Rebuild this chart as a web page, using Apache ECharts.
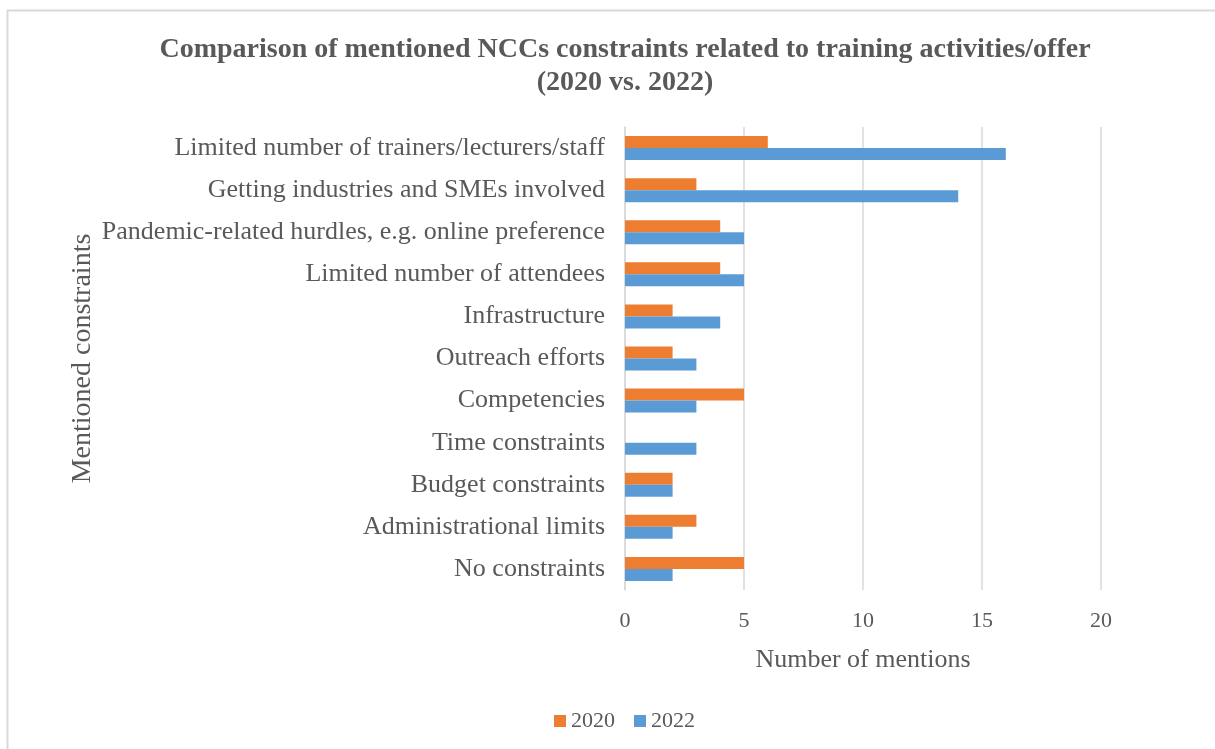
<!DOCTYPE html>
<html>
<head>
<meta charset="utf-8">
<title>NCC constraints</title>
<script src="https://cdn.jsdelivr.net/npm/echarts@6/dist/echarts.min.js"></script>
<style>
  html, body { margin: 0; padding: 0; background: #fff; }
  #chart { width: 1215px; height: 749px; }
</style>
</head>
<body>
<div id="chart"></div>
<script>
  // categories, top to bottom as in the picture
  var categories = [
    'Limited number of trainers/lecturers/staff',
    'Getting industries and SMEs involved',
    'Pandemic-related hurdles, e.g. online preference',
    'Limited number of attendees',
    'Infrastructure',
    'Outreach efforts',
    'Competencies',
    'Time constraints',
    'Budget constraints',
    'Administrational limits',
    'No constraints'
  ];
  var values2020 = [6, 3, 4, 4, 2, 2, 5, 0, 2, 3, 5];
  var values2022 = [16, 14, 5, 5, 4, 3, 3, 3, 2, 2, 2];

  var font = 'Liberation Serif';
  var grey = '#595959';

  var myChart = echarts.init(document.getElementById('chart'));

  var option = {
    backgroundColor: '#fff',
    animation: false,
    title: {
      text: 'Comparison of mentioned NCCs constraints related to training activities/offer\n(2020 vs. 2022)',
      left: 620,
      top: 28,
      textAlign: 'center',
      textStyle: {
        fontFamily: font,
        fontSize: 28,
        fontWeight: 'bold',
        color: grey,
        lineHeight: 33
      }
    },
    graphic: [{
      type: 'rect',
      shape: { x: 7.5, y: 10.5, width: 1400, height: 900 },
      style: { fill: 'none', stroke: '#d9d9d9', lineWidth: 2 },
      silent: true
    }],
    legend: {
      data: ['2020', '2022'],
      bottom: 12,
      left: 549,
      itemWidth: 12,
      itemHeight: 12,
      itemGap: 19,
      icon: 'rect',
      textStyle: { fontFamily: font, fontSize: 22, color: grey }
    },
    grid: {
      left: 625,
      right: 114,
      top: 127,
      bottom: 159
    },
    xAxis: {
      type: 'value',
      min: 0,
      max: 20,
      interval: 5,
      name: 'Number of mentions',
      nameLocation: 'middle',
      nameGap: 57,
      nameTextStyle: { fontFamily: font, fontSize: 26, color: grey },
      axisLabel: { fontFamily: font, fontSize: 22, color: grey, margin: 20 },
      axisLine: { show: false },
      axisTick: { show: false },
      splitLine: { lineStyle: { color: '#d9d9d9', width: 1.5 } }
    },
    yAxis: {
      type: 'category',
      data: categories,
      inverse: true,
      name: 'Mentioned constraints',
      nameLocation: 'middle',
      nameGap: 528,
      nameRotate: 90,
      nameTextStyle: { fontFamily: font, fontSize: 28, color: grey },
      axisLabel: { fontFamily: font, fontSize: 26, color: grey, margin: 20 },
      axisLine: { show: true, lineStyle: { color: '#d9d9d9', width: 1.5 } },
      axisTick: { show: false }
    },
    series: [
      {
        name: '2020',
        type: 'bar',
        data: values2020,
        barWidth: 12,
        barGap: '0%',
        itemStyle: { color: '#ED7D31' }
      },
      {
        name: '2022',
        type: 'bar',
        data: values2022,
        barWidth: 12,
        barGap: '0%',
        itemStyle: { color: '#5B9BD5' }
      }
    ]
  };

  myChart.setOption(option);
</script>
</body>
</html>
